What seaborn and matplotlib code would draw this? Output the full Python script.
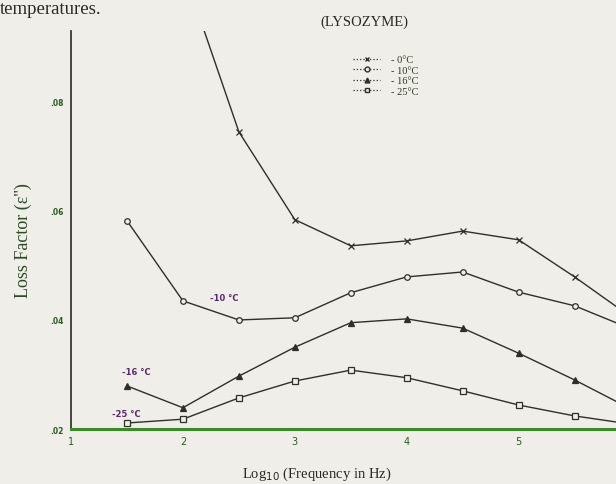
import numpy as np
import pandas as pd
import matplotlib
matplotlib.use("Agg")
import matplotlib.pyplot as plt
from matplotlib.lines import Line2D
import seaborn as sns

# ---- data ----
log_freq = [1.5, 2.0, 2.5, 3.0, 3.5, 4.0, 4.5, 5.0, 5.5, 6.0]
loss_0C = [None, 0.1044, 0.0745, 0.0584, 0.0536, 0.0545, 0.0563, 0.0547, 0.0479, 0.0406]
loss_10C = [0.0582, 0.0435, 0.0400, 0.0404, 0.0450, 0.0479, 0.0488, 0.0451, 0.0426, 0.0384]
loss_16C = [0.0279, 0.0239, 0.0297, 0.0350, 0.0395, 0.0402, 0.0385, 0.0339, 0.0290, 0.0237]
loss_25C = [0.0211, 0.0218, 0.0257, 0.0288, 0.0308, 0.0294, 0.0270, 0.0244, 0.0224, 0.0209]
series_labels = ["- 0°C", "- 10°C", "- 16°C", "- 25°C"]
x_ticks = [1, 2, 3, 4, 5]
y_ticks = [0.02, 0.04, 0.06, 0.08]
y_tick_labels = [".02", ".04", ".06", ".08"]
curve_notes = ["-10 °C", "-16 °C", "-25 °C"]

rows = []
for lab, vals in zip(series_labels, [loss_0C, loss_10C, loss_16C, loss_25C]):
    for xv, yv in zip(log_freq, vals):
        if yv is not None:
            rows.append({"logf": xv, "loss": yv, "temp": lab})
df = pd.DataFrame(rows)

sns.set_style("white")
plt.rcParams["font.family"] = ["Liberation Serif", "DejaVu Serif"]

paper = "#efeee8"
ink = "#2f2f2a"
fig = plt.figure(figsize=(6.16, 4.85), dpi=100, facecolor=paper)
ax = fig.add_axes([0.1153, 0.1134, 0.8847, 0.8206])
ax.set_facecolor(paper)

markers = {"- 0°C": "x", "- 10°C": "o", "- 16°C": "^", "- 25°C": "s"}
open_marker = {"- 0°C": False, "- 10°C": True, "- 16°C": False, "- 25°C": True}
for lab in series_labels:
    sub = df[df["temp"] == lab]
    sns.lineplot(data=sub, x="logf", y="loss", ax=ax, color=ink,
                 marker=markers[lab], markersize=4, linewidth=1.0,
                 markerfacecolor=(paper if open_marker[lab] else ink),
                 markeredgecolor=ink, markeredgewidth=0.9,
                 sort=False, legend=False)

ax.set_xlim(1, 5.87)
ax.set_ylim(0.02, 0.0930)
ax.set_xticks(x_ticks)
ax.set_xticklabels([str(t) for t in x_ticks], fontsize=7, color="#2c5a22",
                   family=["DejaVu Sans"])
ax.set_yticks(y_ticks)
ax.set_yticklabels(y_tick_labels, fontsize=5.5, color="#2c5a22",
                   family=["DejaVu Sans"], fontweight="bold")
ax.tick_params(axis="both", direction="out", length=3, width=1.0,
               colors="#2c5a22", pad=2)
ax.tick_params(axis="y", colors="#a0309a", labelcolor="#2c5a22")

sns.despine(ax=ax, top=True, right=True)
ax.spines["left"].set_color("#3a3a32")
ax.spines["left"].set_linewidth(1.3)
ax.spines["bottom"].set_color("#3c8a2a")
ax.spines["bottom"].set_linewidth(2.2)

ax.set_ylabel("Loss Factor (\u03b5'')", fontsize=13, color="#2e4a25")
ax.set_xlabel("Log$_{10}$ (Frequency in Hz)", fontsize=10.5, color="#2a2a25")
ax.yaxis.set_label_coords(-0.072, 0.475)
ax.xaxis.set_label_coords(0.45, -0.09)

# curve notes
note_pos = [(2.24, 0.0442), (1.455, 0.0305), (1.37, 0.0228)]
for txt, (tx, ty) in zip(curve_notes, note_pos):
    ax.text(tx, ty, txt, fontsize=6, color="#5a2a6a", family=["DejaVu Sans"],
            va="center", ha="left", fontweight="bold")

# title
fig.text(0.592, 0.955, "(LYSOZYME)", ha="center", va="center", fontsize=10.5, color="#2a2a25")
fig.text(0.0, 0.998, "temperatures.", ha="left", va="top", fontsize=13.5, color="#2a2a25")

# legend
handles = [Line2D([0], [0], color=ink, linestyle=":", linewidth=0.9,
                  marker=markers[lab], markersize=3.5,
                  markerfacecolor=(paper if open_marker[lab] else ink),
                  markeredgecolor=ink)
           for lab in series_labels]
leg = ax.legend(handles, series_labels, loc="upper left",
                bbox_to_anchor=(0.51, 0.95), frameon=False, fontsize=7.5,
                handlelength=2.6, labelspacing=0.12, handletextpad=1.0,
                borderaxespad=0.0)
for t in leg.get_texts():
    t.set_color("#2a3a22")

fig.savefig("out.png", dpi=100, facecolor=paper)
